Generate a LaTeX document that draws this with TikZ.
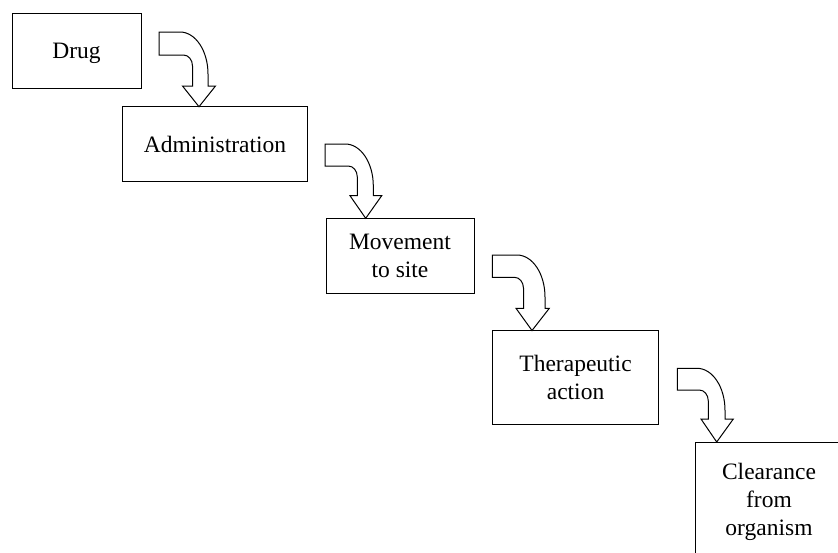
\documentclass[tikz,border=0pt]{standalone}
\usepackage{fontspec}
\setmainfont{Liberation Serif}
\usepackage{tikz}
\usetikzlibrary{positioning}
\tikzset{
    stagebox/.style={
        draw,
        rectangle,
        fill=white,
        line width=1pt,
        inner sep=0pt,
        outer sep=0pt,
        anchor=north west,
        align=center,
        text depth=0pt,
        font=\fontsize{23.5}{28.3}\selectfont
    },
    bentarrow/.style={
        draw,
        fill=white,
        line width=1pt,
        line join=miter
    }
}

\begin{document}
\begin{tikzpicture}[x=1pt,y=-1pt]
  % Page frame
  \useasboundingbox (0,0) rectangle (838,552);
  \clip (0,0) rectangle (838,552);

  % Stages, stepping down to the right
  \node[stagebox, minimum width=129pt, minimum height=75pt] (drug) at (12,13) {Drug};
  \node[stagebox, minimum width=184.6pt, minimum height=75pt] (admin) at (122.7,106.7) {Administration};
  \node[stagebox, minimum width=148pt, minimum height=74.7pt] (move) at (326,218.3) {Movement\\to site};
  \node[stagebox, minimum width=166.5pt, minimum height=93.5pt] (thera) at (492.3,330.5) {Therapeutic\\action};
  \node[stagebox, minimum width=146.6pt, minimum height=115pt] (clear) at (695.7,442) {Clearance\\from\\organism};

  % Bent block arrows between stages
  \foreach \dst/\tx/\ty/\w/\sl/\sr/\hb/\hl/\hr/\px in {
      admin/159/32/23/192.5/208/86/182.5/215.5/199,
      move/325/144/22/357.3/373.3/195.7/350/381.7/365.7,
      thera/492.3/255/22.3/523.5/545/308.3/516/549.3/532,
      clear/677.3/368.3/21.7/708.3/725/419/701/733.3/716.7} {
    \draw[bentarrow] (\tx,\ty) -- ({\sr-28},\ty)
      .. controls ({\sr-12.5},\ty) and (\sr,{\ty+18.8}) .. (\sr,{\ty+42})
      -- (\sr,\hb) -- (\hr,\hb) -- (\px,0 |- \dst.north) -- (\hl,\hb) -- (\sl,\hb)
      -- (\sl,{\ty+\w+11})
      .. controls (\sl,{\ty+\w+4.9}) and ({\sl-4},{\ty+\w}) .. ({\sl-9},{\ty+\w})
      -- (\tx,{\ty+\w}) -- cycle;
  }
\end{tikzpicture}
\end{document}
